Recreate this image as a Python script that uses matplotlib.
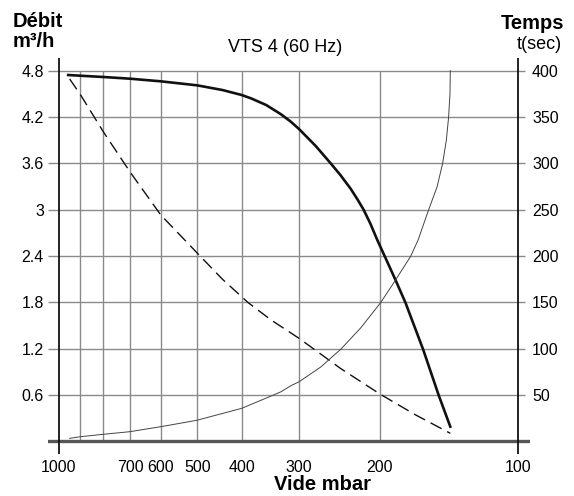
import matplotlib
matplotlib.use("Agg")
import matplotlib.pyplot as plt
from matplotlib.ticker import NullLocator, NullFormatter

# --- data ---
# débit (m3/h) vs vide (mbar), thick solid
vide_q = [955, 900, 800, 700, 600, 500, 441, 400, 380.8, 353.7, 328.4, 312.6, 300,
          275.9, 256.0, 243.5, 231.6, 223.6, 217.0, 209.6, 202.6, 194.4, 184.9,
          175.9, 161.0, 148.9, 140.5]
debit = [4.745, 4.736, 4.719, 4.697, 4.663, 4.611, 4.551, 4.486, 4.440, 4.356, 4.236, 4.140, 4.045,
         3.825, 3.601, 3.445, 3.272, 3.130, 3.000, 2.815, 2.607, 2.374, 2.089,
         1.795, 1.190, 0.596, 0.190]

# dashed curve (left scale)
vide_d = [947.9, 900, 800, 700, 600, 495.2, 441, 387.0, 345.0, 300, 243.5, 200, 167.3, 140.5]
dashed = [4.693, 4.499, 4.006, 3.488, 2.931, 2.413, 2.102, 1.795, 1.571, 1.334, 0.943, 0.613, 0.343, 0.104]

# temps (s) vs vide, thin line (right scale)
vide_t = [947.9, 898, 800, 701, 600, 501, 400, 342.0, 328.4, 312.6, 300, 269.1, 243.5,
          220.3, 199.3, 184.9, 171.6, 165.1, 163.2, 156.6, 150.1, 146.0, 143.3, 141.7,
          140.7, 140.5]
temps = [3.2, 5.0, 7.6, 10.4, 15.8, 22.7, 35.6, 49.7, 53.5, 60.0, 64.3, 80.2, 99.3,
         122.3, 149.6, 174.1, 199.3, 217.3, 224.5, 250, 274.8, 300.1, 325.2, 349.8,
         375.7, 400]

x_ticks = [1000, 700, 600, 500, 400, 300, 200, 100]
x_grid = [900, 800, 700, 600, 500, 400, 300, 200]
y_ticks = [0.6, 1.2, 1.8, 2.4, 3.0, 3.6, 4.2, 4.8]
y_labels = ["0.6", "1.2", "1.8", "2.4", "3", "3.6", "4.2", "4.8"]
t_ticks = [50, 100, 150, 200, 250, 300, 350, 400]

sans = ["Liberation Sans", "DejaVu Sans"]

W, H = 574, 496
fig = plt.figure(figsize=(W / 100, H / 100), dpi=100)
ax = fig.add_axes([48 / W, 1 - 453.6 / H, 482 / W, 395.2 / H])

ax.set_xscale("log")
x0, x1 = 1056.7, 94.2
y0, y1 = -0.159, 4.96
ax.set_xlim(x0, x1)
ax.set_ylim(y0, y1)
for s in ax.spines.values():
    s.set_visible(False)

# grid
ax.hlines(y_ticks, x0, 96.5, color="#8a8a8a", lw=1.0, zorder=1)
ax.vlines(x_grid, 0, 4.8, color="#8a8a8a", lw=1.0, zorder=1)
ax.axhline(0, color="#555555", lw=2.4, zorder=2)
ax.axvline(1000, color="#111111", lw=1.3, zorder=3)
ax.axvline(100, color="#111111", lw=1.3, zorder=3)

# curves
ax.plot(vide_q, debit, color="#111111", lw=1.9, zorder=4, solid_joinstyle="round")
ax.plot(vide_d, dashed, color="#111111", lw=1.0, dashes=(9, 4.5), zorder=4)

ax2 = ax.twinx()
for s in ax2.spines.values():
    s.set_visible(False)
ax2.set_ylim(y0 * 250 / 3, y1 * 250 / 3)
ax2.plot(vide_t, temps, color="#444444", lw=0.7, zorder=4)

# ticks
ax.xaxis.set_minor_locator(NullLocator())
ax.xaxis.set_minor_formatter(NullFormatter())
ax.set_xticks(x_ticks)
ax.set_xticklabels([str(v) for v in x_ticks], family=sans, fontsize=11.5)
ax.tick_params(axis="x", length=0, pad=4.5)
ax.set_yticks(y_ticks)
ax.set_yticklabels(y_labels, family=sans, fontsize=11.5)
ax.tick_params(axis="y", length=0, pad=3)
ax2.set_yticks(t_ticks)
ax2.set_yticklabels([str(v) for v in t_ticks], family=sans, fontsize=11.5)
ax2.tick_params(axis="y", length=0, pad=1.5)

# texts
def px(x, y):
    return x / W, 1 - y / H

fig.text(*px(13, 27), "Débit", family=sans, fontweight="bold", fontsize=14.5, va="baseline")
fig.text(*px(13, 47), "m³/h", family=sans, fontweight="bold", fontsize=14.5, va="baseline")
fig.text(*px(564, 29), "Temps", family=sans, fontweight="bold", fontsize=14.5, va="baseline", ha="right")
fig.text(*px(562, 49), "t(sec)", family=sans, fontsize=13, va="baseline", ha="right")
fig.text(*px(285, 52), "VTS 4 (60 Hz)", family=sans, fontsize=13, va="baseline", ha="center")
fig.text(*px(323, 490), "Vide mbar", family=sans, fontweight="bold", fontsize=14.5, va="baseline", ha="center")

fig.savefig("out.png", dpi=100)
